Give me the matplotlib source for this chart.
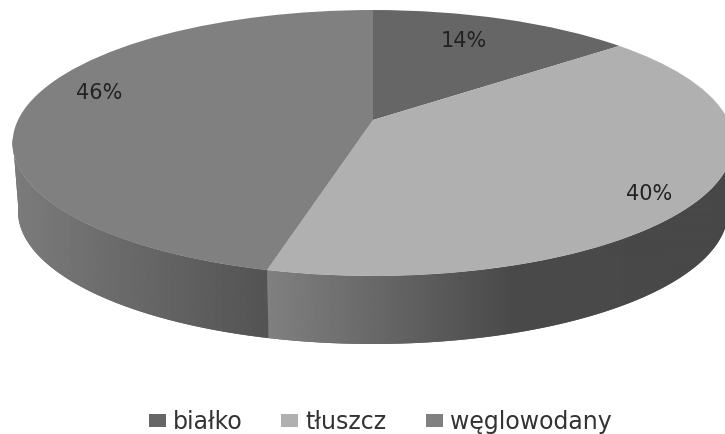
import numpy as np
import matplotlib
matplotlib.use("Agg")
import matplotlib.pyplot as plt
from matplotlib.patches import Polygon, Patch
from matplotlib.transforms import Transform

categories = ["białko", "tłuszcz", "węglowodany"]
values = [14, 40, 46]
colors = ["#666666", "#b0b0b0", "#808080"]
pct_labels = ["14%", "40%", "46%"]

# pie geometry in pixels
APEX_X, APEX_Y = 373, 120
SX, SY, TILT = 355, 129, 0.173
DEPTH = 68
BOTTOM_SHRINK = 0.985


class DiskTilt(Transform):
    """Unit disk of the pie -> tilted disk seen in perspective."""
    input_dims = 2
    output_dims = 2
    is_affine = False

    def transform_non_affine(self, xy):
        xy = np.asarray(xy, dtype=float)
        d = 1 + TILT * xy[:, 1]
        return np.column_stack([APEX_X + SX * xy[:, 0] / d, APEX_Y - SY * xy[:, 1] / d])


def rim(a_from, a_to, dy=0, shrink=1.0):
    # a is degrees clockwise from the top of the disk
    a = np.radians(np.linspace(a_from, a_to, 120))
    pts = DiskTilt().transform_non_affine(np.column_stack([np.sin(a), np.cos(a)]))
    pts[:, 0] = APEX_X + (pts[:, 0] - APEX_X) * shrink
    pts[:, 1] += dy
    return pts


def wall(ax, a_from, a_to, x_stops, grey_stops):
    # shaded strip under the rim, grey changes from left to right
    top = rim(a_from, a_to)
    bottom = rim(a_from, a_to, DEPTH, BOTTOM_SHRINK)
    poly = Polygon(np.vstack([top, bottom[::-1]]), closed=True, ec="none",
                   fc=str(np.mean(grey_stops)), zorder=0.5, transform=ax.transData)
    ax.add_patch(poly)
    xs = np.arange(x_stops[0], x_stops[-1] + 1)
    grad = np.interp(xs, x_stops, grey_stops)[None, :]
    im = ax.imshow(grad, extent=(xs[0], xs[-1], 434, 0), cmap="gray", vmin=0, vmax=1,
                   aspect="auto", interpolation="bilinear", zorder=1)
    im.set_clip_path(poly)


fig = plt.figure(figsize=(7.25, 4.34), dpi=100)
ax = fig.add_axes([0, 0, 1, 1])

wedges, _ = ax.pie(values, colors=colors, startangle=90, counterclock=False)
tilt = DiskTilt() + ax.transData
for w in wedges:
    w.set_transform(tilt)
    w.set_zorder(2)
    w.set_clip_on(False)

ax.set_aspect("auto")

# side wall below the disk, split where the last two slices meet
split = 360 * (values[0] + values[1]) / sum(values)
wall(ax, 100, split, [262, 270, 510, 740], [0.50, 0.50, 0.29, 0.28])
wall(ax, split, 262, [5, 262, 275], [0.49, 0.33, 0.33])

ax.set_xlim(0, 725)
ax.set_ylim(434, 0)
ax.axis("off")

label_pos = [(464, 41), (649, 194), (99, 93)]
for txt, (x, y) in zip(pct_labels, label_pos):
    ax.text(x, y, txt, ha="center", va="center", fontsize=15, color="#222222",
            family="DejaVu Sans", zorder=3)

handles = [Patch(facecolor=c, edgecolor="none") for c in colors]
ax.legend(handles, categories, loc="center", bbox_to_anchor=(380 / 725, 1 - 422 / 434),
          ncol=3, frameon=False, prop={"family": "DejaVu Sans", "size": 17},
          handlelength=0.72, handleheight=0.5, handletextpad=0.3, columnspacing=1.65,
          labelcolor="#333333")

fig.savefig("out.png", dpi=100)
